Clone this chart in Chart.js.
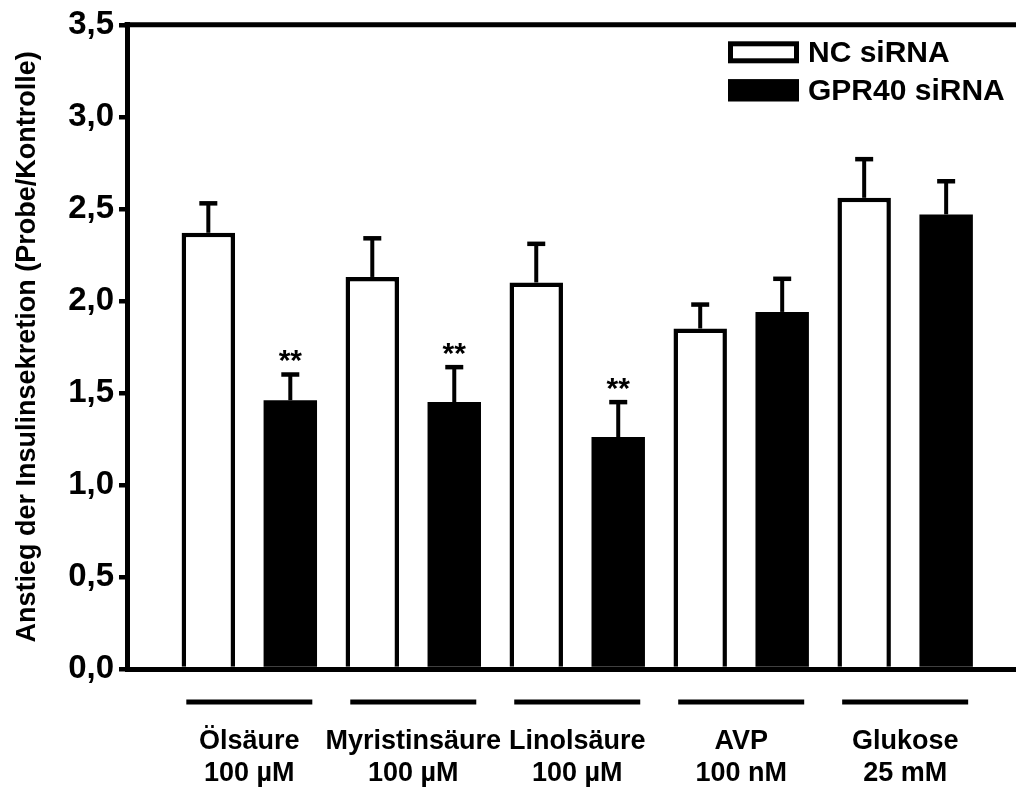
<!DOCTYPE html>
<html>
<head>
<meta charset="utf-8">
<script src="https://cdn.jsdelivr.net/npm/chart.js@4.4.0/dist/chart.umd.min.js"></script>
<style>
  html, body { margin: 0; padding: 0; background: #fff; }
  #wrap { width: 1016px; height: 787px; }
</style>
</head>
<body>
<div id="wrap"><canvas id="chart"></canvas></div>
<script>
const categories = ['Ölsäure', 'Myristinsäure', 'Linolsäure', 'AVP', 'Glukose'];
const concentrations = ['100 µM', '100 µM', '100 µM', '100 nM', '25 mM'];
const seriesLabels = ['NC siRNA', 'GPR40 siRNA'];
const ncMean = [2.37, 2.13, 2.10, 1.85, 2.56];
const ncSem = [0.16, 0.21, 0.21, 0.13, 0.21];
const gprMean = [1.46, 1.45, 1.26, 1.94, 2.47];
const gprSem = [0.14, 0.19, 0.19, 0.18, 0.18];
const gprMarks = ['**', '**', '**', '', ''];
const yMin = 0;
const yMax = 3.5;
const yStep = 0.5;

const FONT = "'Liberation Sans', Arial, Helvetica, sans-serif";

function formatTick(value) {
  return value.toFixed(1).replace('.', ',');
}

function toPoints(values) {
  return values.map((v, i) => ({ x: i, y: v }));
}

// upper error bars and significance stars
const errorBars = {
  id: 'errorBars',
  afterDatasetsDraw(chart) {
    const { ctx } = chart;
    const yScale = chart.scales.y;
    chart.data.datasets.forEach((ds, di) => {
      const meta = chart.getDatasetMeta(di);
      meta.data.forEach((bar, i) => {
        const mean = ds.data[i].y;
        const top = yScale.getPixelForValue(mean + ds.errors[i]);
        ctx.save();
        ctx.strokeStyle = '#000';
        ctx.lineWidth = 4;
        ctx.beginPath();
        ctx.moveTo(bar.x, bar.y);
        ctx.lineTo(bar.x, top);
        ctx.stroke();
        ctx.lineWidth = 4.5;
        ctx.beginPath();
        ctx.moveTo(bar.x - 9, top);
        ctx.lineTo(bar.x + 9, top);
        ctx.stroke();
        if (ds.marks && ds.marks[i]) {
          ctx.fillStyle = '#000';
          ctx.font = 'bold 30px ' + FONT;
          ctx.textAlign = 'center';
          ctx.textBaseline = 'alphabetic';
          ctx.fillText(ds.marks[i], bar.x, top - 4.6);
        }
        ctx.restore();
      });
    });
  }
};

// top frame line and the short lines under each group
const frame = {
  id: 'frame',
  afterDraw(chart) {
    const { ctx, chartArea } = chart;
    const xScale = chart.scales.x;
    ctx.save();
    ctx.strokeStyle = '#000';
    ctx.lineWidth = 5;
    ctx.beginPath();
    ctx.moveTo(chartArea.left - 2.5, chartArea.top);
    ctx.lineTo(chartArea.right, chartArea.top);
    ctx.stroke();
    categories.forEach((c, i) => {
      const cx = xScale.getPixelForValue(i);
      ctx.beginPath();
      ctx.moveTo(cx - 63, chartArea.bottom + 33);
      ctx.lineTo(cx + 63, chartArea.bottom + 33);
      ctx.stroke();
    });
    ctx.restore();
  }
};

// legend box in the upper right corner of the plot
const boxLegend = {
  id: 'boxLegend',
  afterDraw(chart) {
    const { ctx, chartArea } = chart;
    const left = chartArea.right - 288;
    ctx.save();
    chart.data.datasets.forEach((ds, i) => {
      const cy = chartArea.top + 27.5 + 38 * i;
      const h = 22;
      const w = 71;
      ctx.fillStyle = ds.backgroundColor;
      ctx.fillRect(left, cy - h / 2, w, h);
      ctx.strokeStyle = ds.borderColor;
      ctx.lineWidth = 5;
      ctx.strokeRect(left + 2.5, cy - h / 2 + 2.5, w - 5, h - 5);
      ctx.fillStyle = '#000';
      ctx.font = 'bold 30px ' + FONT;
      ctx.textAlign = 'left';
      ctx.textBaseline = 'middle';
      ctx.fillText(ds.label, left + 80, cy + 1);
    });
    ctx.restore();
  }
};

const ctx = document.getElementById('chart');

new Chart(ctx, {
  type: 'bar',
  data: {
    datasets: [
      {
        label: seriesLabels[0],
        data: toPoints(ncMean),
        errors: ncSem,
        backgroundColor: '#ffffff',
        borderColor: '#000000',
        borderWidth: 4.5,
      },
      {
        label: seriesLabels[1],
        data: toPoints(gprMean),
        errors: gprSem,
        marks: gprMarks,
        backgroundColor: '#000000',
        borderColor: '#000000',
        borderWidth: 0,
      },
    ],
  },
  options: {
    responsive: true,
    maintainAspectRatio: false,
    animation: false,
    categoryPercentage: 1.0,
    barPercentage: 0.652,
    layout: { padding: { top: 20, left: 0, right: 0, bottom: 0 } },
    plugins: {
      legend: { display: false },
      tooltip: { enabled: false },
    },
    scales: {
      x: {
        type: 'linear',
        min: -0.746,
        max: 4.676,
        bounds: 'data',
        offset: false,
        afterBuildTicks(scale) {
          scale.ticks = categories.map((c, i) => ({ value: i }));
        },
        afterFit(scale) { scale.height = 118; },
        grid: { display: false, drawTicks: false, offset: false },
        border: { display: true, color: '#000', width: 5 },
        ticks: {
          autoSkip: false,
          maxRotation: 0,
          padding: 56,
          color: '#000',
          font: { family: FONT, size: 27, weight: 'bold', lineHeight: 1.2 },
          callback: (value) => {
            const i = Math.round(value);
            if (!categories[i]) return '';
            return [categories[i], concentrations[i]];
          },
        },
      },
      y: {
        min: yMin,
        max: yMax,
        afterFit(scale) { scale.width = 127; },
        grid: {
          display: true,
          drawOnChartArea: false,
          drawTicks: true,
          tickLength: 8,
          lineWidth: 4.5,
          color: '#000',
        },
        border: { display: true, color: '#000', width: 5 },
        ticks: {
          stepSize: yStep,
          padding: 5,
          color: '#000',
          font: { family: FONT, size: 33, weight: 'bold' },
          callback: (value) => formatTick(value),
        },
        title: {
          display: true,
          text: 'Anstieg der Insulinsekretion (Probe/Kontrolle)',
          color: '#000',
          font: { family: FONT, size: 27, weight: 'bold', lineHeight: 1.2 },
          padding: { top: 11, bottom: 0 },
        },
      },
    },
  },
  plugins: [errorBars, frame, boxLegend],
});
</script>
</body>
</html>
